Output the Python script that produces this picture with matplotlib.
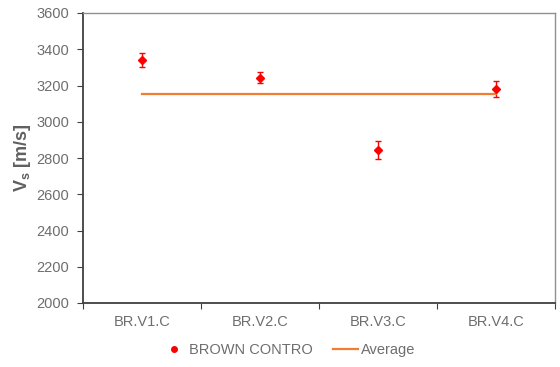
import matplotlib
matplotlib.use("Agg")
import matplotlib.pyplot as plt
from matplotlib.lines import Line2D
import numpy as np

plt.rcParams['font.family'] = ['Liberation Sans', 'DejaVu Sans']

categories = ["BR.V1.C", "BR.V2.C", "BR.V3.C", "BR.V4.C"]
vs_values = [3341, 3243, 2844, 3182]
vs_errors = [37, 30, 48, 45]
average_value = float(np.mean(vs_values))

red = '#ff0000'
orange = '#f07d32'
label_grey = '#6e6e6e'

fig = plt.figure(figsize=(5.6, 3.67), dpi=100)
ax = fig.add_axes([83/560, 1 - 303/367, (555-83)/560, (303-13)/367])

x = np.arange(len(categories))
ax.errorbar(x, vs_values, yerr=vs_errors, fmt='D', color=red, ms=4,
            ecolor=red, elinewidth=1, capsize=2.5, capthick=1)
ax.plot(x, [average_value] * len(x), color=orange, lw=1.6)

ax.set_xlim(-0.5, len(categories) - 0.5)
ax.set_ylim(2000, 3600)
ax.set_yticks(np.arange(2000, 3601, 200))
ax.set_xticks(np.arange(-0.5, len(categories), 1.0))
ax.set_xticklabels([])
ax.set_xticks(x, minor=True)
ax.set_xticklabels(categories, minor=True)
ax.tick_params(axis='x', which='minor', length=0, pad=9, labelsize=10.5, labelcolor=label_grey)
ax.tick_params(axis='x', which='major', length=4, direction='out', color='#404040')
ax.tick_params(axis='y', length=4, direction='out', color='#404040', labelsize=10.5,
               labelcolor=label_grey, pad=6)

for side in ['left', 'bottom']:
    ax.spines[side].set_color('#404040')
    ax.spines[side].set_linewidth(1.3)
for side in ['top', 'right']:
    ax.spines[side].set_color('#909090')
    ax.spines[side].set_linewidth(1.0)

ax.set_ylabel(r'V$_\mathregular{s}$ [m/s]', fontsize=13, fontweight='bold', color='#606060',
              labelpad=2)

handles = [
    Line2D([], [], ls='none', marker='o', ms=4, color=red),
    Line2D([], [], color=orange, lw=1.6),
]
leg = fig.legend(handles, ['BROWN CONTRO', 'Average'], loc='center',
                 bbox_to_anchor=(0.515, 1 - 350/367), ncol=2, frameon=False,
                 fontsize=10.5, handlelength=1.7, columnspacing=1.4, handletextpad=0.2)
for t in leg.get_texts():
    t.set_color(label_grey)

fig.savefig('out.png', dpi=100)
